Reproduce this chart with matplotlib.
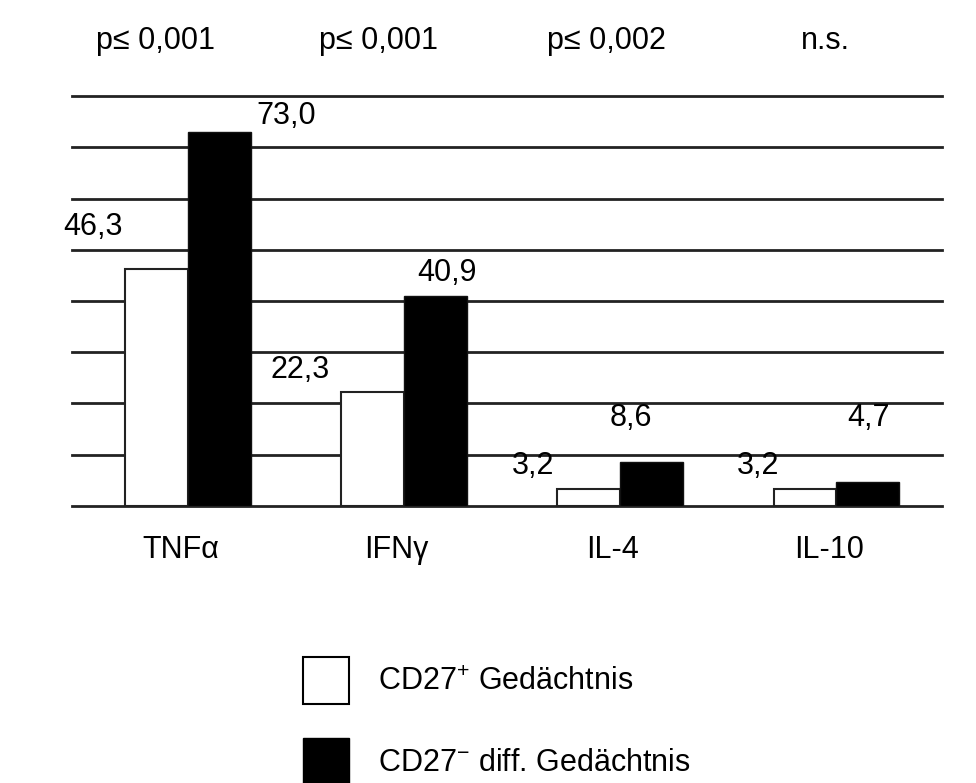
import numpy as np
import matplotlib
matplotlib.use("Agg")
import matplotlib.pyplot as plt
from matplotlib.patches import Patch

plt.rcParams["font.family"] = ["Liberation Sans", "DejaVu Sans"]
plt.rcParams["mathtext.fontset"] = "custom"
plt.rcParams["mathtext.rm"] = "Liberation Sans"
plt.rcParams["mathtext.it"] = "Liberation Sans:italic"

# data
cytokines = ["TNFα", "IFNγ", "IL-4", "IL-10"]
cd27_pos = [46.3, 22.3, 3.2, 3.2]
cd27_neg = [73.0, 40.9, 8.6, 4.7]
pvalues = ["p≤ 0,001", "p≤ 0,001", "p≤ 0,002", "n.s."]
legend_labels = ["CD27$^{+}$ Gedächtnis", "CD27$^{-}$ diff. Gedächtnis"]

# label offsets (points) from bar top centre
pos_offsets = [(-46, 19), (-52, 5), (-40, 6), (-34, 6)]
neg_offsets = [(48, 1), (8, 6), (-15, 21), (1, 35)]
p_shift = [-0.15, -0.12, -0.065, -0.05]

FS = 22
w = 0.29
x = np.arange(len(cytokines))

fig = plt.figure(figsize=(9.76, 7.83), dpi=100)
ax = fig.add_axes([0.0738, 0.354, 0.8914, 0.523])

for yv in range(0, 81, 10):
    ax.axhline(yv, color="#222222", lw=2.0, zorder=1, clip_on=False)

b1 = ax.bar(x - w / 2, cd27_pos, w, color="white", edgecolor="#222222", lw=1.5, zorder=2)
b2 = ax.bar(x + w / 2, cd27_neg, w, color="black", edgecolor="#111111", lw=1.0, zorder=2)

for bars, vals, offs in [(b1, cd27_pos, pos_offsets), (b2, cd27_neg, neg_offsets)]:
    for r, v, (dx, dy) in zip(bars, vals, offs):
        ax.annotate(f"{v:.1f}".replace(".", ","),
                    (r.get_x() + r.get_width() / 2, r.get_height()),
                    xytext=(dx, dy), textcoords="offset points",
                    ha="center", va="bottom", fontsize=FS)

for xi, s, p in zip(x, p_shift, pvalues):
    ax.text(xi + s, 89.3, p, ha="center", va="baseline", fontsize=FS, clip_on=False)

ax.set_xlim(-0.537, 3.49)
ax.set_ylim(0, 80)
ax.set_xticks(x - 0.035)
ax.set_xticklabels(cytokines, fontsize=FS)
ax.tick_params(axis="x", length=0, pad=21)
ax.set_yticks([])
for sp in ax.spines.values():
    sp.set_visible(False)

handles = [Patch(facecolor="white", edgecolor="black", lw=1.5),
           Patch(facecolor="black", edgecolor="black", lw=1.0)]
fig.legend(handles, legend_labels, loc="upper left",
           bbox_to_anchor=(303 / 976, 1 - 657 / 783), frameon=False,
           fontsize=FS, handlelength=1.5, handleheight=2.0,
           handletextpad=0.95, labelspacing=1.1, borderpad=0, borderaxespad=0)

fig.savefig("out.png", dpi=100)
